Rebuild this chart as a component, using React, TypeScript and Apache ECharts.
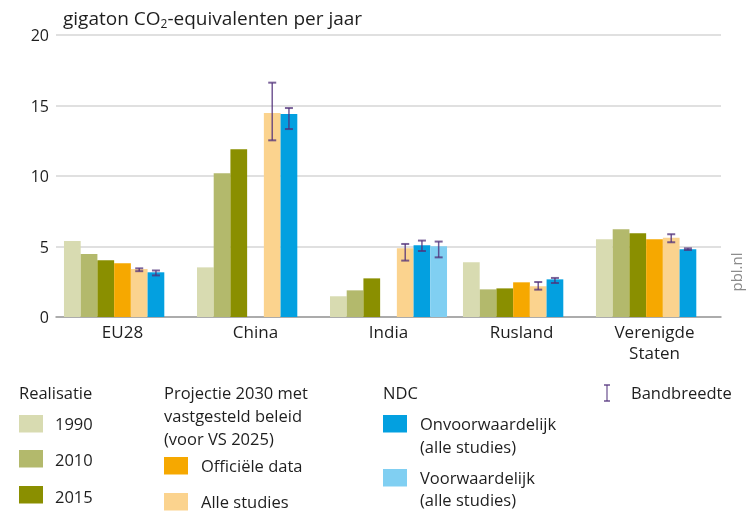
import React, { useEffect, useRef } from "react";
import * as echarts from "echarts";

const categories = ["EU28", "China", "India", "Rusland", "Verenigde\nStaten"];
const tickValues = [0, 5, 10, 15, 20];

const real1990 = [5.39, 3.52, 1.47, 3.88, 5.51];
const real2010 = [4.47, 10.19, 1.89, 1.96, 6.22];
const real2015 = [4.02, 11.89, 2.74, 2.03, 5.94];
const projOfficieel = [3.81, null, null, 2.46, 5.51];
const projAlle = [3.4, 14.47, 4.87, 2.18, 5.62];
const ndcOnv = [3.17, 14.4, 5.08, 2.67, 4.8];
const ndcVoor = [null, null, 5.01, null, null];

const alleLow = [3.25, 12.53, 4.0, 1.94, 5.3];
const alleHigh = [3.45, 16.62, 5.18, 2.48, 5.87];
const onvLow = [2.95, 13.33, 4.68, 2.41, 4.75];
const onvHigh = [3.3, 14.82, 5.42, 2.77, 4.87];
const voorLow = [null, null, 4.23, null, null];
const voorHigh = [null, null, 5.35, null, null];

const seriesNames = [
  "1990",
  "2010",
  "2015",
  "Officiële data",
  "Alle studies",
  "Onvoorwaardelijk (alle studies)",
  "Voorwaardelijk (alle studies)",
];
const seriesColors = ["#d8dbb1", "#b3b96c", "#8a8f00", "#f6a800", "#fbd38e", "#03a0e0", "#80cff2"];

const FONT = "'Open Sans', 'Noto Sans', sans-serif";
const TXT = "#1e1e1e";
const ERR = "#50307a";
const LFS = 16.5;

export default function App() {
  const ref = useRef<HTMLDivElement>(null);
  useEffect(() => {
    if (!ref.current) return;
    const chart = echarts.init(ref.current, null, { renderer: "svg" });
    const seriesData = [real1990, real2010, real2015, projOfficieel, projAlle, ndcOnv, ndcVoor];
    const barSeries = seriesData.map((d, i) => ({
      name: seriesNames[i],
      type: "bar",
      data: d.map((v) => (v === null ? "-" : v)),
      barGap: "0%",
      barCategoryGap: "12%",
      itemStyle: { color: seriesColors[i] },
    }));
    const errData: any[] = [];
    const addErr = (lo: (number | null)[], hi: (number | null)[], k: number) => {
      lo.forEach((l, i) => {
        if (l !== null && hi[i] !== null) errData.push([i, l, hi[i], k]);
      });
    };
    addErr(alleLow, alleHigh, 4);
    addErr(onvLow, onvHigh, 5);
    addErr(voorLow, voorHigh, 6);

    const errSeries = {
      type: "custom",
      name: "Bandbreedte",
      data: errData,
      encode: { x: 0, y: [1, 2] },
      z: 10,
      renderItem: (params: any, api: any) => {
        const cat = api.value(0);
        const lo = api.coord([cat, api.value(1)]);
        const hi = api.coord([cat, api.value(2)]);
        const k = api.value(3);
        const band = api.size([1, 0])[0];
        const bw = (band * 0.88) / 7;
        const x = lo[0] - band * 0.44 + bw * (k + 0.5);
        const cap = 4;
        return {
          type: "group",
          children: [
            { type: "line", shape: { x1: x, y1: hi[1], x2: x, y2: lo[1] }, style: { stroke: ERR, lineWidth: 1.5, opacity: 0.8 } },
            { type: "line", shape: { x1: x - cap, y1: hi[1], x2: x + cap, y2: hi[1] }, style: { stroke: ERR, lineWidth: 2, opacity: 0.75 } },
            { type: "line", shape: { x1: x - cap, y1: lo[1], x2: x + cap, y2: lo[1] }, style: { stroke: ERR, lineWidth: 2, opacity: 0.75 } },
          ],
        };
      },
    };

    const txt = (x: number, y: number, text: string, extra: any = {}) => ({
      type: "text",
      x,
      y,
      style: { text, font: `${LFS}px ${FONT}`, fill: TXT, textVerticalAlign: "middle", ...extra },
    });
    const sw = (x: number, y: number, color: string) => ({
      type: "rect",
      shape: { x, y, width: 24, height: 17.5 },
      style: { fill: color },
    });

    const graphics: any[] = [
      txt(19, 392, "Realisatie"),
      sw(19, 415, seriesColors[0]),
      txt(55, 423, "1990"),
      sw(19, 450, seriesColors[1]),
      txt(55, 459, "2010"),
      sw(19, 486, seriesColors[2]),
      txt(55, 496, "2015"),
      txt(164, 392, "Projectie 2030 met"),
      txt(164, 415, "vastgesteld beleid"),
      txt(164, 438, "(voor VS 2025)"),
      sw(164, 457, seriesColors[3]),
      txt(201, 465, "Officiële data"),
      sw(164, 493, seriesColors[4]),
      txt(201, 501, "Alle studies"),
      txt(383, 392, "NDC"),
      sw(383, 415, seriesColors[5]),
      txt(420, 423, "Onvoorwaardelijk"),
      txt(420, 446, "(alle studies)"),
      sw(383, 469, seriesColors[6]),
      txt(420, 477, "Voorwaardelijk"),
      txt(420, 499, "(alle studies)"),
      { type: "line", shape: { x1: 607, y1: 385, x2: 607, y2: 401 }, style: { stroke: ERR, lineWidth: 1.2, opacity: 0.85 } },
      { type: "line", shape: { x1: 604, y1: 385, x2: 610, y2: 385 }, style: { stroke: ERR, lineWidth: 1.5, opacity: 0.85 } },
      { type: "line", shape: { x1: 604, y1: 401, x2: 610, y2: 401 }, style: { stroke: ERR, lineWidth: 1.5, opacity: 0.85 } },
      txt(631, 392, "Bandbreedte"),
      {
        type: "text",
        x: 736,
        y: 272,
        rotation: Math.PI / 2,
        style: { text: "pbl.nl", font: `15px ${FONT}`, fill: "#8a8a8a", textAlign: "center", textVerticalAlign: "middle" },
      },
    ];

    chart.setOption({
      animation: false,
      textStyle: { fontFamily: FONT },
      title: {
        text: "gigaton CO{sub|2}-equivalenten per jaar",
        left: 58,
        top: 2,
        textStyle: {
          fontFamily: FONT,
          fontSize: 19,
          fontWeight: "normal",
          color: TXT,
          rich: {
            sub: { fontFamily: FONT, fontSize: 12, color: TXT, padding: [10, 0, 0, 0] },
          },
        },
      },
      grid: { left: 56, right: 28, top: 35, height: 282, containLabel: false },
      xAxis: {
        type: "category",
        data: categories,
        axisTick: { show: false },
        axisLine: { lineStyle: { color: "#9a9a9a", width: 1.5 } },
        axisLabel: { color: TXT, fontSize: 17, fontFamily: FONT, margin: 4, lineHeight: 21, interval: 0 },
      },
      yAxis: {
        type: "value",
        min: tickValues[0],
        max: tickValues[tickValues.length - 1],
        interval: 5,
        axisLine: { show: false },
        axisTick: { show: false },
        axisLabel: { color: TXT, fontSize: 16, fontFamily: FONT, margin: 7 },
        splitLine: { lineStyle: { color: "#d6d6d6", width: 1.5 } },
      },
      series: [...barSeries, errSeries],
      graphic: graphics,
    });
    return () => chart.dispose();
  }, []);
  return <div ref={ref} style={{ position: "fixed", left: 0, top: 0, width: 749, height: 512 }} />;
}
